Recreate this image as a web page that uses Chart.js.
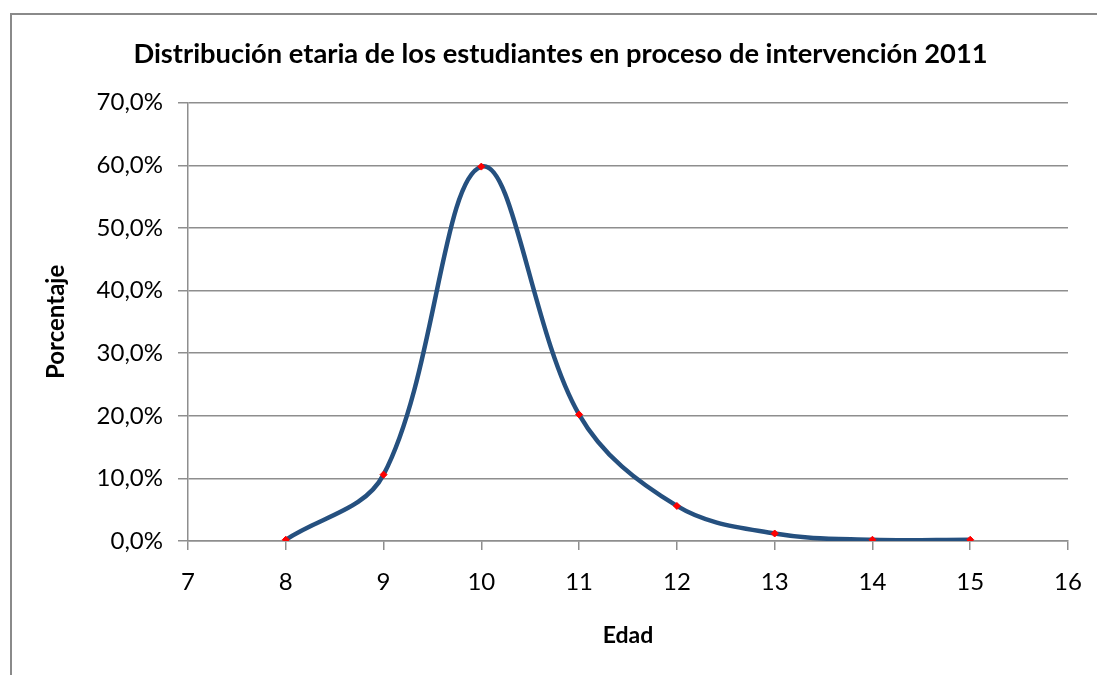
<!DOCTYPE html>
<html>
<head>
<meta charset="utf-8">
<script src="https://cdn.jsdelivr.net/npm/chart.js@4"></script>
<style>
  html, body { margin: 0; padding: 0; background: #fff; }
  #wrap { width: 1097px; height: 675px; position: relative; }
</style>
</head>
<body>
<div id="wrap"><canvas id="chart" width="1097" height="675"></canvas></div>
<script>
const titleText = "Distribución etaria de los estudiantes en proceso de intervención 2011";
const xTitle = "Edad";
const yTitle = "Porcentaje";

const ages = [8, 9, 10, 11, 12, 13, 14, 15];
const percentages = [0.2, 10.6, 59.8, 20.2, 5.6, 1.2, 0.2, 0.2];

const xMin = 7, xMax = 16, xStep = 1;
const yMin = 0, yMax = 70, yStep = 10;

const gridColor = "#8e8e8e";
const fontFamily = "Lato, 'Open Sans', sans-serif";

// grey frame like the Excel chart border (top + left edges visible)
const framePlugin = {
  id: "frame",
  beforeDraw(chart) {
    const ctx = chart.ctx;
    ctx.save();
    ctx.fillStyle = "#fff";
    ctx.fillRect(0, 0, chart.width, chart.height);
    ctx.strokeStyle = "#8a8a8a";
    ctx.lineWidth = 2;
    ctx.beginPath();
    ctx.moveTo(11, chart.height);
    ctx.lineTo(11, 14);
    ctx.lineTo(chart.width, 14);
    ctx.stroke();
    ctx.restore();
  },
};

const points = ages.map((a, i) => ({ x: a, y: percentages[i] }));

new Chart(document.getElementById("chart"), {
  type: "line",
  data: {
    datasets: [
      {
        data: points,
        borderColor: "#25507f",
        borderWidth: 4.5,
        tension: 0.36,
        pointStyle: "rectRot",
        pointRadius: 3.5,
        pointBackgroundColor: "#ff0000",
        pointBorderColor: "#ff0000",
        pointBorderWidth: 1,
        fill: false,
      },
    ],
  },
  options: {
    responsive: false,
    animation: false,
    layout: { padding: { left: 53, right: 29, top: 0, bottom: 0 } },
    plugins: {
      legend: { display: false },
      tooltip: { enabled: false },
      title: {
        display: true,
        text: titleText,
        color: "#000",
        font: { family: fontFamily, size: 27.3, weight: "bold" },
        padding: { top: 38, bottom: 32 },
      },
    },
    scales: {
      x: {
        type: "linear",
        min: xMin,
        max: xMax,
        ticks: {
          stepSize: xStep,
          color: "#000",
          padding: 18,
          font: { family: fontFamily, size: 24 },
        },
        grid: {
          drawOnChartArea: false,
          drawTicks: true,
          tickLength: 9,
          color: gridColor,
          lineWidth: 1.5,
        },
        border: { display: true, color: gridColor, width: 1.5 },
        title: {
          display: true,
          text: xTitle,
          color: "#000",
          font: { family: fontFamily, size: 23, weight: "bold" },
          padding: { top: 0, bottom: 26 },
        },
        afterFit(scale) {
          scale.height = 134;
          scale.paddingLeft = 0;
          scale.paddingRight = 0;
        },
      },
      y: {
        min: yMin,
        max: yMax,
        ticks: {
          stepSize: yStep,
          color: "#000",
          padding: 15,
          font: { family: fontFamily, size: 24 },
          callback: (v) => v.toFixed(1).replace(".", ",") + "%",
        },
        grid: {
          drawTicks: true,
          tickLength: 10,
          color: gridColor,
          lineWidth: 1.5,
        },
        border: { display: true, color: gridColor, width: 1.5 },
        title: {
          display: true,
          text: yTitle,
          color: "#000",
          font: { family: fontFamily, size: 24, weight: "bold" },
          padding: { top: -11, bottom: 0 },
        },
        afterFit(scale) { scale.width = 135; },
      },
    },
  },
  plugins: [framePlugin],
});
</script>
</body>
</html>
